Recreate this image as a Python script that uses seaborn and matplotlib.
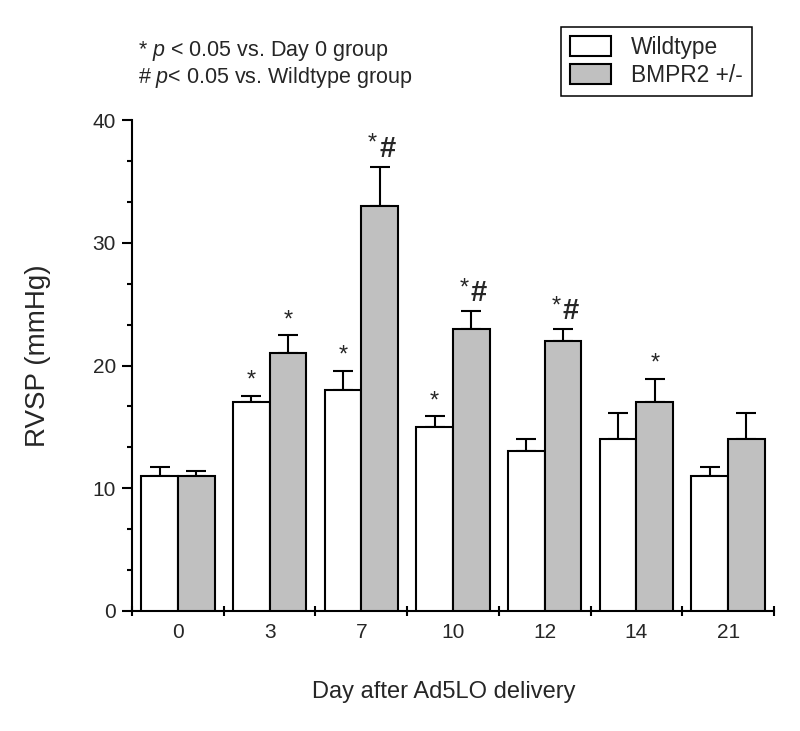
import numpy as np
import pandas as pd
import matplotlib
matplotlib.use("Agg")
import matplotlib.pyplot as plt
from matplotlib.ticker import AutoMinorLocator
import seaborn as sns

days = ['0', '3', '7', '10', '12', '14', '21']
groups = ['Wildtype', 'BMPR2 +/-']
wt_mean = [11, 17, 18, 15, 13, 14, 11]
wt_err = [0.75, 0.55, 1.55, 0.85, 1.0, 2.1, 0.75]
bm_mean = [11, 21, 33, 23, 22, 17, 14]
bm_err = [0.4, 1.45, 3.2, 1.45, 0.95, 1.9, 2.1]
wt_marks = ['', '*', '*', '*', '', '', '']
bm_marks = ['', '*', '*#', '*#', '*#', '*', '']

sns.set_style('ticks')
plt.rcParams['font.family'] = ['Liberation Sans', 'DejaVu Sans']
plt.rcParams['mathtext.fontset'] = 'custom'
plt.rcParams['mathtext.rm'] = 'Liberation Sans'
plt.rcParams['mathtext.it'] = 'Liberation Sans:italic'

df = pd.DataFrame({
    'day': days * 2,
    'group': [groups[0]] * len(days) + [groups[1]] * len(days),
    'rvsp': wt_mean + bm_mean,
})

fig = plt.figure(figsize=(8.0, 7.31), dpi=100)
ax = fig.add_axes([132 / 800, 1 - 611 / 731, (774 - 132) / 800, (611 - 120) / 731])

sns.barplot(data=df, x='day', y='rvsp', hue='group', order=days, hue_order=groups,
            palette={groups[0]: 'white', groups[1]: '#c0c0c0'}, saturation=1,
            edgecolor='black', linewidth=1.5, errorbar=None, width=0.8, ax=ax, zorder=3)

bar_conts = list(ax.containers)
errs = [wt_err, bm_err]
means = [wt_mean, bm_mean]
marks = [wt_marks, bm_marks]
for ci, cont in enumerate(bar_conts):
    xs = [p.get_x() + p.get_width() / 2 for p in cont.patches]
    ax.errorbar(xs, means[ci], yerr=[np.zeros(len(xs)), errs[ci]], fmt='none',
                ecolor='black', elinewidth=1.5, capsize=7.5, capthick=1.5, zorder=2)
    for x, m, e, mk in zip(xs, means[ci], errs[ci], marks[ci]):
        top = m + e
        if mk == '*':
            ax.annotate('*', (x, top), xytext=(0, 6.5), textcoords='offset points',
                        ha='center', va='baseline', fontsize=17)
        elif mk == '*#':
            ax.annotate('#', (x, top), xytext=(5.5, 7.2), textcoords='offset points',
                        ha='center', va='baseline', fontsize=21, fontweight='bold')
            ax.annotate('*', (x, top), xytext=(-5, 12), textcoords='offset points',
                        ha='center', va='baseline', fontsize=17)

ax.set_xlim(-0.5, 6.5)
ax.set_ylim(0, 40)
ax.set_yticks([0, 10, 20, 30, 40])
ax.yaxis.set_minor_locator(AutoMinorLocator(3))
ax.set_xticks(range(len(days)))
ax.set_xticklabels(days)
ax.set_xticks(np.arange(-0.5, len(days), 1.0), minor=True)

ax.tick_params(axis='x', which='major', length=0, pad=9, labelsize=15)
ax.tick_params(axis='x', which='minor', direction='inout', length=7.2, width=1.5, color='black')
ax.tick_params(axis='y', which='major', direction='out', length=7.2, width=1.5, pad=4.5,
               labelsize=15, color='black')
ax.tick_params(axis='y', which='minor', direction='out', length=3.6, width=1.5, color='black')

sns.despine(ax=ax)
for s in ['left', 'bottom']:
    ax.spines[s].set_linewidth(1.5)
    ax.spines[s].set_color('black')

ax.set_xlabel('Day after Ad5LO delivery', fontsize=17)
ax.set_ylabel('RVSP (mmHg)', fontsize=20)
ax.xaxis.set_label_coords(0.485, -0.142)
ax.yaxis.set_label_coords(-0.126, 0.52)

handles, labels = ax.get_legend_handles_labels()
if ax.get_legend() is not None:
    ax.get_legend().remove()
for h in handles:
    h.set_edgecolor('black')
    h.set_linewidth(1.5)
leg = ax.legend(handles, labels, loc='upper right', bbox_to_anchor=(752 / 800, 1 - 27 / 731),
                bbox_transform=fig.transFigure, frameon=True, fancybox=False,
                edgecolor='black', framealpha=1, fontsize=16.4, handlelength=1.8,
                handleheight=0.97, labelspacing=0.2, borderpad=0.4, handletextpad=0.9,
                borderaxespad=0)
leg.get_frame().set_linewidth(1.1)

fig.text(138 / 800, 1 - 56 / 731, r'* $\mathit{p}$ < 0.05 vs. Day 0 group',
         ha='left', va='baseline', fontsize=15.5)
fig.text(138 / 800, 1 - 82.7 / 731, r'# $\mathit{p}$< 0.05 vs. Wildtype group',
         ha='left', va='baseline', fontsize=15.5)

fig.savefig('out.png', dpi=100)
